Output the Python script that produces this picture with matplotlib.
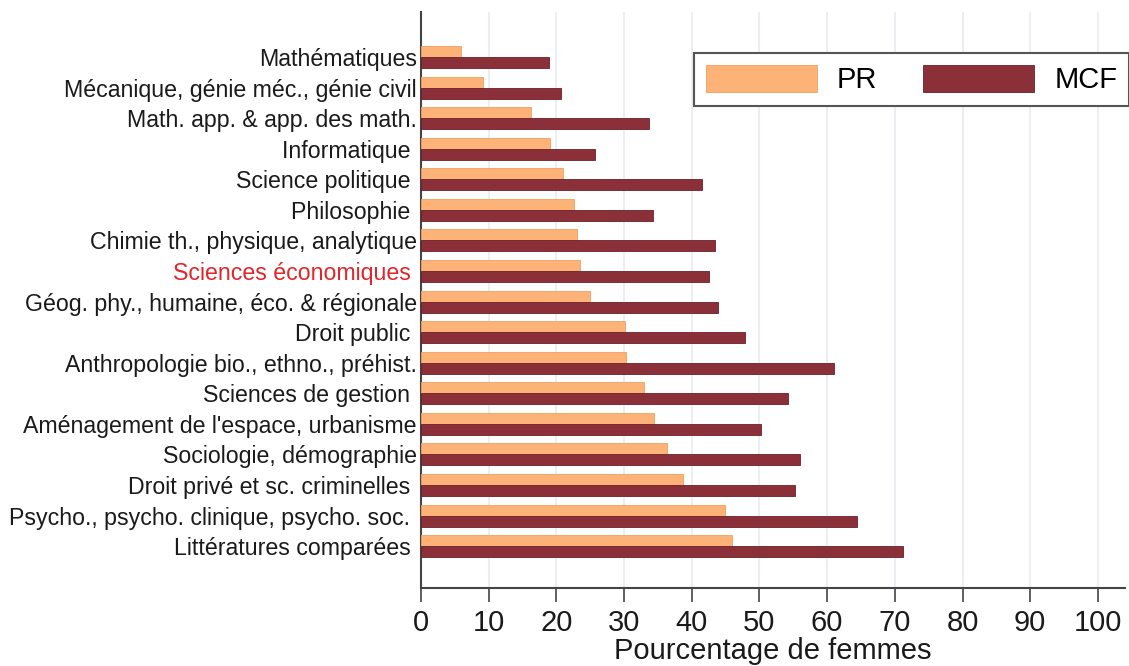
import matplotlib
matplotlib.use("Agg")
import matplotlib.pyplot as plt
import numpy as np

plt.rcParams['font.family'] = ['Liberation Sans', 'DejaVu Sans']

# disciplines, from top to bottom
disciplines = [
    "Mathématiques",
    "Mécanique, génie méc., génie civil",
    "Math. app. & app. des math.",
    "Informatique ",
    "Science politique ",
    "Philosophie ",
    "Chimie th., physique, analytique",
    "Sciences économiques ",
    "Géog. phy., humaine, éco. & régionale",
    "Droit public ",
    "Anthropologie bio., ethno., préhist.",
    "Sciences de gestion ",
    "Aménagement de l'espace, urbanisme",
    "Sociologie, démographie",
    "Droit privé et sc. criminelles ",
    "Psycho., psycho. clinique, psycho. soc. ",
    "Littératures comparées ",
]
pr_values = [5.9, 9.2, 16.2, 19.1, 21.0, 22.6, 23.1, 23.5, 24.9,
             30.1, 30.3, 33.0, 34.4, 36.4, 38.7, 44.9, 45.9]
mcf_values = [18.9, 20.7, 33.7, 25.7, 41.5, 34.3, 43.4, 42.6, 43.9,
              47.8, 61.0, 54.2, 50.2, 56.0, 55.2, 64.4, 71.2]
highlight = "Sciences économiques "
x_ticks = list(range(0, 101, 10))

col_pr = "#fdb378"
col_mcf = "#8b2f39"

fig = plt.figure(figsize=(11.29, 6.66), dpi=100)
ax = fig.add_axes([421/1129, 1 - 588/666, 704/1129, 576/666])

y = np.arange(len(disciplines))
h = 0.36
ax.barh(y - h/2, pr_values, height=h, color=col_pr, edgecolor="#f0a060",
        linewidth=0.6, label="PR", zorder=3)
ax.barh(y + h/2, mcf_values, height=h, color=col_mcf, edgecolor="#6e1f28",
        linewidth=0.6, label="MCF", zorder=3)

ax.set_xlim(0, 104)
ax.set_ylim(len(disciplines) - 1 + 1.37, -1.47)
ax.set_xticks(x_ticks)
ax.set_yticks(y)
ax.set_yticklabels(disciplines, fontsize=16.7, color="#1a1a1a")
for lab in ax.get_yticklabels():
    if lab.get_text() == highlight:
        lab.set_color("#e0262a")
ax.tick_params(axis="y", length=0, pad=3)
ax.tick_params(axis="x", length=10, width=1.2, color="#444444",
               labelsize=21, pad=5, labelcolor="#1a1a1a")

for g in x_ticks[1:]:
    ax.axvline(g, color="#e9eef2", linewidth=1.3, zorder=0)

for s in ["top", "right"]:
    ax.spines[s].set_visible(False)
for s in ["left", "bottom"]:
    ax.spines[s].set_color("#444444")
    ax.spines[s].set_linewidth(1.5)

ax.set_xlabel("Pourcentage de femmes", fontsize=21, labelpad=0, color="#1a1a1a")

leg = ax.legend(loc="lower left", bbox_to_anchor=(0.388, 0.837, 0.618, 0.097),
                mode="expand", borderaxespad=0, ncol=2, fontsize=21,
                handlelength=3.8, handleheight=1.05, handletextpad=0.7,
                columnspacing=1.2, fancybox=False, framealpha=1,
                edgecolor="#555555", borderpad=0.4)
leg.get_frame().set_linewidth(1.5)
leg.set_zorder(5)

fig.savefig("out.png", dpi=100)
